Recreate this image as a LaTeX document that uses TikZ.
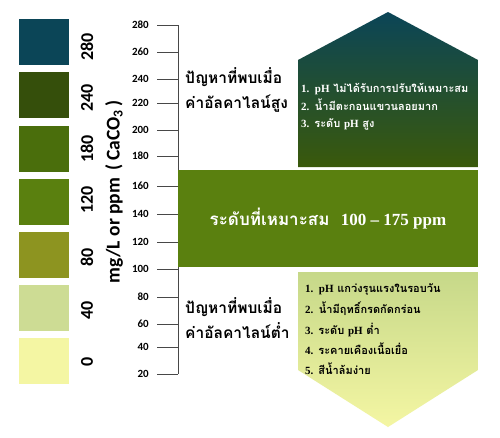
\documentclass[tikz,border=0pt]{standalone}
\usepackage{fontspec}
\setmainfont{Liberation Serif}
\newfontfamily\thaifont[Script=Thai]{Loma}
\newfontfamily\calfont{Carlito}
\usetikzlibrary{positioning}
\definecolor{AlkTeal}{HTML}{0B4557}
\definecolor{AlkOliveDark}{HTML}{354F0B}
\definecolor{AlkOlive}{HTML}{4A6E0C}
\definecolor{AlkGreen}{HTML}{5A800F}
\definecolor{AlkMoss}{HTML}{8D9420}
\definecolor{AlkPale}{HTML}{CDDC94}
\definecolor{AlkCream}{HTML}{F4F6A3}
\definecolor{AlkInk}{HTML}{1A1A1A}
\definecolor{AlkHighBot}{HTML}{3A590B}
\definecolor{AlkLowTop}{HTML}{C6D889}
\newcommand\latn[1]{{\rmfamily\bfseries #1}}

\begin{document}
\begin{tikzpicture}[x=1pt, y=-1pt,
    swatch/.style={minimum width=50pt, minimum height=46pt, inner sep=0pt, anchor=north west},
    swlabel/.style={rotate=90, inner sep=0pt, font=\calfont\bfseries\fontsize{18}{18}\selectfont},
    ticklabel/.style={anchor=east, inner sep=0pt, font=\calfont\bfseries\fontsize{11}{12}\selectfont},
    axisline/.style={draw=AlkInk!80, line width=0.9pt},
    problem/.style={anchor=base west, inner sep=0pt, font=\thaifont\bfseries\fontsize{15.5}{18}\selectfont},
    item/.style={anchor=base west, inner sep=0pt, font=\thaifont\bfseries\fontsize{11}{13}\selectfont}
  ]
    \useasboundingbox[fill=white] (0,0) rectangle (500,437);

    % colour scale on the left
    \foreach \col/\val/\ly [count=\i from 0] in {AlkTeal/280/47, AlkOliveDark/240/98,
        AlkOlive/180/149, AlkGreen/120/200, AlkMoss/80/257, AlkPale/40/310, AlkCream/0/362} {
      \node[swatch, fill=\col] (sw\i) at (19,19+53.2*\i) {};
      \node[swlabel] (swl\i) at (87,\ly) {\val};
    }
    \node[rotate=90, font=\calfont\bfseries\fontsize{19.5}{20}\selectfont] (unit) at (114,192)
      {mg/L or ppm \,(\,CaCO\textsubscript{3}\,)};

    % ruler
    \draw[axisline] (178,25) -- (178,374);
    \foreach \val/\ty in {280/25, 260/52, 240/79, 220/103, 200/130, 180/156, 160/186,
        140/214, 120/242, 100/269, 80/297, 60/324, 40/347, 20/374} {
      \draw[axisline] (157,\ty) -- (178,\ty);
      \node[ticklabel] (t\val) at (149,\ty) {\val};
    }

    % high alkalinity
    \shade[top color=AlkTeal, bottom color=AlkHighBot]
      (298,167) -- (298,60) -- (388,12) -- (478,60) -- (478,167) -- cycle;
    \node[problem] (highA) at (185,83) {ปัญหาที่พบเมื่อ};
    \node[problem] (highB) at (185,108) {ค่าอัลคาไลน์สูง};
    \node[item, text=white] (hi1) at (301,92) {\latn{1.\ \ pH} ไม่ได้รับการปรับให้เหมาะสม};
    \node[item, text=white] (hi2) at (301,110) {\latn{2.\ \ }น้ำมีตะกอนแขวนลอยมาก};
    \node[item, text=white] (hi3) at (301,127) {\latn{3.} ระดับ \latn{pH} สูง};

    % optimum band
    \node[fill=AlkGreen, minimum width=300pt, minimum height=97pt, inner sep=0pt,
      text=white, font=\thaifont\bfseries\fontsize{17}{18}\selectfont] (optimum) at (328,218.5)
      {ระดับที่เหมาะสม\ \ \latn{100 -- 175 ppm}};

    % low alkalinity
    \shade[top color=AlkLowTop, middle color=AlkCream!97!AlkPale, bottom color=AlkCream]
      (298,272) -- (478,272) -- (478,370) -- (388,427) -- (298,370) -- cycle;
    \node[problem] (lowA) at (185,313) {ปัญหาที่พบเมื่อ};
    \node[problem] (lowB) at (185,338) {ค่าอัลคาไลน์ต่ำ};
    \node[item] (lo1) at (305,292) {\latn{1.\ \ pH} แกว่งรุนแรงในรอบวัน};
    \node[item] (lo2) at (305,313) {\latn{2.\ \ }น้ำมีฤทธิ์กรดกัดกร่อน};
    \node[item] (lo3) at (305,334) {\latn{3.} ระดับ \latn{pH} ต่ำ};
    \node[item] (lo4) at (305,354) {\latn{4.} ระคายเคืองเนื้อเยื่อ};
    \node[item] (lo5) at (305,374) {\latn{5.} สีน้ำล้มง่าย};
\end{tikzpicture}
\end{document}
